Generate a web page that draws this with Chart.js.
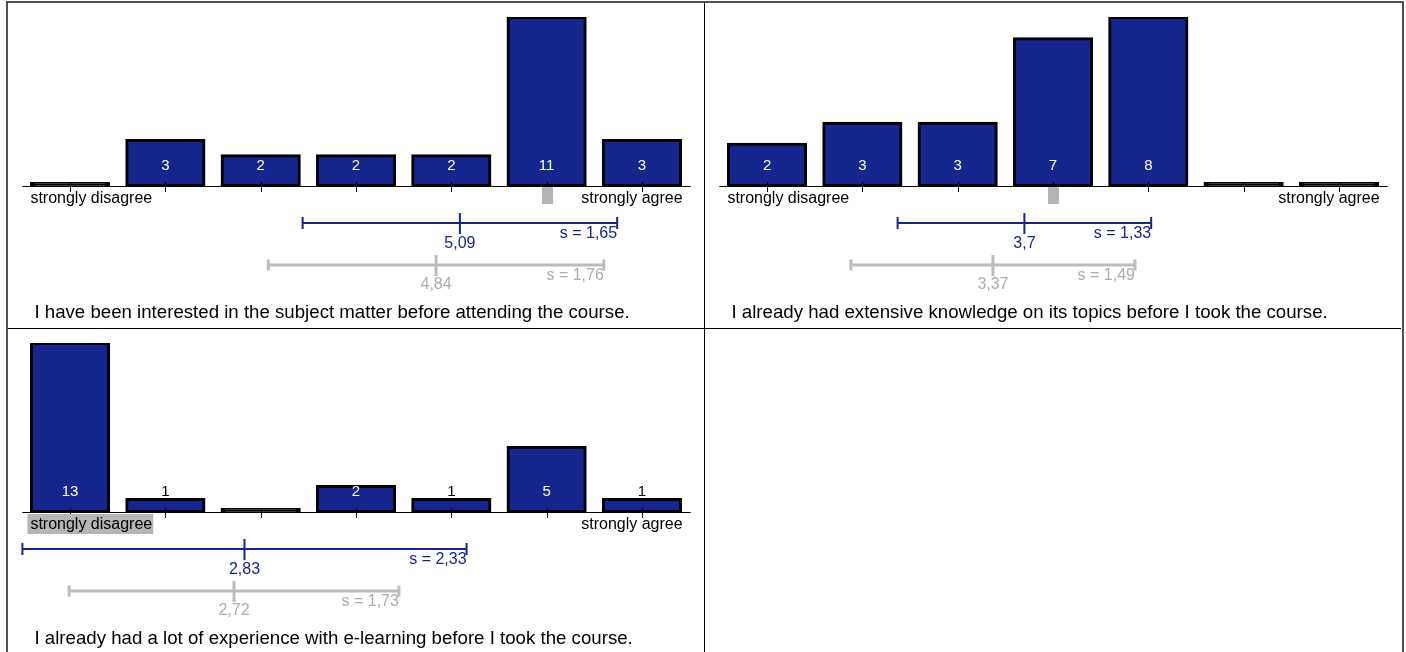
<!DOCTYPE html>
<html>
<head>
<meta charset="utf-8">
<script src="https://cdn.jsdelivr.net/npm/chart.js@4"></script>
<style>
body { margin: 0; background: #fff; }
.frame { position: absolute; left: 6px; top: 1px; width: 1398px; height: 700px; box-sizing: border-box; border: 2px solid #505050; }
.vline { position: absolute; left: 704px; top: 3px; width: 1px; height: 700px; background: #000; }
.hline { position: absolute; left: 8px; top: 328px; width: 1393px; height: 1px; background: #000; }
canvas { position: absolute; }
</style>
</head>
<body>
<div class="frame"></div>
<div class="vline"></div>
<div class="hline"></div>
<canvas id="q1" width="696" height="325" style="left:8px;top:3px"></canvas>
<canvas id="q2" width="696" height="325" style="left:705px;top:3px"></canvas>
<canvas id="q3" width="696" height="325" style="left:8px;top:329px"></canvas>
<script>
const CATEGORIES = ["1", "2", "3", "4", "5", "6", "7"];
const SCALE_LOW = "strongly disagree";
const SCALE_HIGH = "strongly agree";
const QUESTIONS = [
    "I have been interested in the subject matter before attending the course.",
    "I already had extensive knowledge on its topics before I took the course.",
    "I already had a lot of experience with e-learning before I took the course.",
];
const COUNTS_Q1 = [0, 3, 2, 2, 2, 11, 3];
const COUNTS_Q2 = [2, 3, 3, 7, 8, 0, 0];
const COUNTS_Q3 = [13, 1, 0, 2, 1, 5, 1];
const MEANS = [5.09, 3.7, 2.83];
const SDS = [1.65, 1.33, 2.33];
const MEDIANS = [6, 4, 1];
const REF_MEANS = [4.84, 3.37, 2.72];
const REF_SDS = [1.76, 1.49, 1.73];

const BLUE = "#15268f";
const GREY_LINE = "#bcbcbc";
const GREY_TEXT = "#acacac";
const MEDIAN_GREY = "#b5b5b5";
const FONT = "'Liberation Sans', Arial, sans-serif";

function fmt(v) {
    return String(v).replace(".", ",");
}

function statBar(ctx, xs, y, mean, sd, lineColor, textColor, width, capH, labelGap) {
    const x0 = xs.getPixelForValue(mean - sd);
    const x1 = xs.getPixelForValue(mean + sd);
    const xm = xs.getPixelForValue(mean);
    ctx.strokeStyle = lineColor;
    ctx.lineWidth = width;
    ctx.beginPath();
    ctx.moveTo(x0, y); ctx.lineTo(x1, y);
    ctx.moveTo(x0, y - capH); ctx.lineTo(x0, y + capH);
    ctx.moveTo(x1, y - capH); ctx.lineTo(x1, y + capH);
    ctx.moveTo(xm, y - 10); ctx.lineTo(xm, y + 11);
    ctx.stroke();
    ctx.fillStyle = textColor;
    ctx.font = "16px " + FONT;
    ctx.textBaseline = "middle";
    ctx.textAlign = "center";
    ctx.fillText(fmt(mean), xm, y + labelGap);
    ctx.textAlign = "right";
    ctx.fillText("s = " + fmt(sd), x1, y + 11);
}

function drawPanel(id, counts, k) {
    const likert = {
        id: "likert",
        beforeDatasetsDraw(chart) {
            const ctx = chart.ctx;
            const base = chart.scales.y.getPixelForValue(0);
            const area = chart.chartArea;
            ctx.save();
            ctx.strokeStyle = "#000";
            ctx.lineWidth = 1;
            ctx.beginPath();
            ctx.moveTo(area.left, base + 0.5);
            ctx.lineTo(area.right + 1, base + 0.5);
            ctx.stroke();
            ctx.restore();
        },
        afterDatasetsDraw(chart) {
            const ctx = chart.ctx;
            const x = chart.scales.x;
            const xs = chart.scales.xs;
            const base = chart.scales.y.getPixelForValue(0);
            const area = chart.chartArea;
            const meta = chart.getDatasetMeta(0);
            ctx.save();

            // tick marks across the baseline
            ctx.strokeStyle = "#000";
            ctx.lineWidth = 1;
            ctx.beginPath();
            CATEGORIES.forEach((c, i) => {
                const px = Math.round(x.getPixelForValue(i)) + 0.5;
                ctx.moveTo(px, base - 4);
                ctx.lineTo(px, base + 6);
            });
            ctx.stroke();

            // counts
            ctx.font = "15px " + FONT;
            ctx.textAlign = "center";
            ctx.textBaseline = "middle";
            meta.data.forEach((el, i) => {
                if (counts[i] === 0) return;
                ctx.fillStyle = el.base - el.y > 20 ? "#fff" : "#000";
                ctx.fillText(String(counts[i]), el.x, base - 20);
            });

            // median marker / scale end labels
            ctx.font = "16px " + FONT;
            const med = MEDIANS[k];
            const lowW = ctx.measureText(SCALE_LOW).width;
            if (med === 1) {
                ctx.fillStyle = MEDIAN_GREY;
                ctx.fillRect(area.left + 5, base + 2, lowW + 4, 20);
            } else if (med === CATEGORIES.length) {
                const hiW = ctx.measureText(SCALE_HIGH).width;
                ctx.fillStyle = MEDIAN_GREY;
                ctx.fillRect(area.right - 9 - hiW, base + 2, hiW + 4, 20);
            } else {
                const mx = x.getPixelForValue(med - 1);
                ctx.fillStyle = MEDIAN_GREY;
                ctx.fillRect(Math.round(mx) - 5, base + 1, 11, 17);
            }
            ctx.fillStyle = "#000";
            ctx.textAlign = "left";
            ctx.fillText(SCALE_LOW, area.left + 8, base + 13);
            ctx.textAlign = "right";
            ctx.fillText(SCALE_HIGH, area.right - 7, base + 13);

            // mean +- sd
            statBar(ctx, xs, base + 37, MEANS[k], SDS[k], BLUE, BLUE, 2, 6, 21);
            statBar(ctx, xs, base + 79, REF_MEANS[k], REF_SDS[k], GREY_LINE, GREY_TEXT, 3, 5.5, 20);

            // question
            ctx.font = "18.67px " + FONT;
            ctx.fillStyle = "#000";
            ctx.textAlign = "left";
            ctx.fillText(QUESTIONS[k], area.left + 12, base + 127);
            ctx.restore();
        },
    };

    new Chart(document.getElementById(id), {
        type: "bar",
        data: {
            labels: CATEGORIES,
            datasets: [{
                data: counts,
                backgroundColor: c => (c.raw === 0 ? "#000" : BLUE),
                borderColor: "#000",
                borderWidth: 3,
                borderSkipped: false,
                inflateAmount: 1,
                minBarLength: 3,
                categoryPercentage: 1,
                barPercentage: 0.82,
            }],
        },
        options: {
            responsive: false,
            animation: false,
            events: [],
            layout: { padding: { left: 14.4, right: 14.4, top: 14, bottom: 142 } },
            plugins: { legend: { display: false }, tooltip: { enabled: false } },
            scales: {
                x: { type: "category", display: false, offset: true },
                xs: { type: "linear", display: false, offset: false, min: 0.5, max: 7.5 },
                y: { display: false, min: 0, max: Math.max(...counts) },
            },
        },
        plugins: [likert],
    });
}

drawPanel("q1", COUNTS_Q1, 0);
drawPanel("q2", COUNTS_Q2, 1);
drawPanel("q3", COUNTS_Q3, 2);
</script>
</body>
</html>
